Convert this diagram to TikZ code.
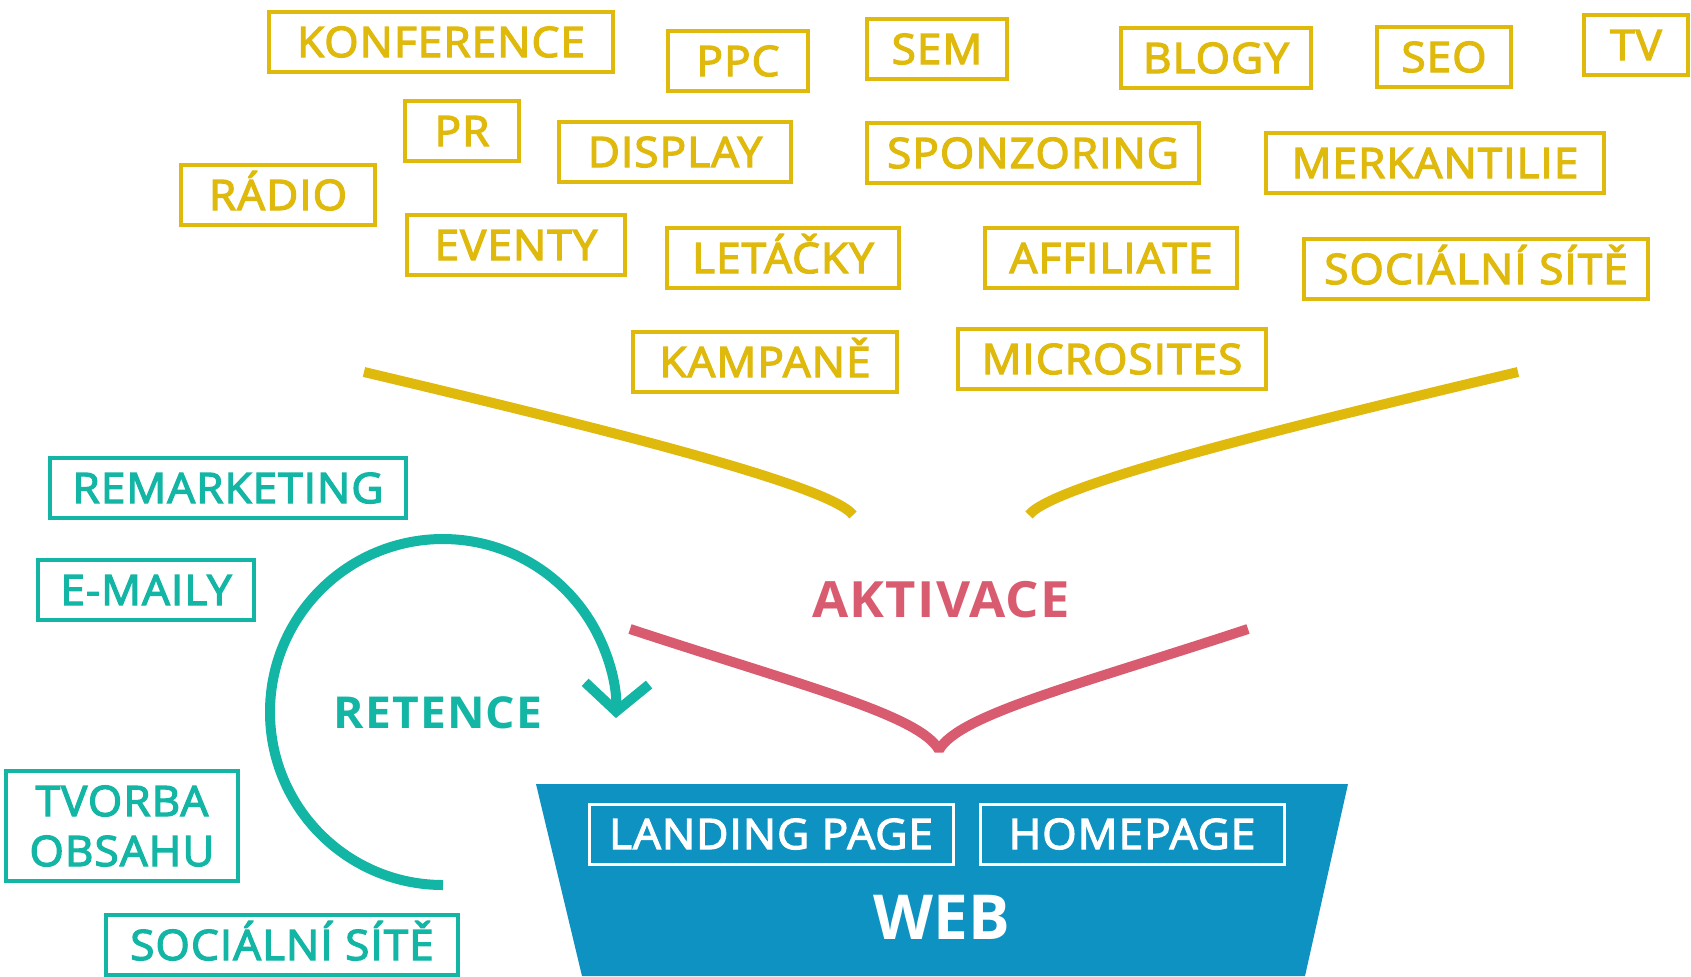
\documentclass[tikz,border=0pt]{standalone}
\usepackage{fontspec}
\setmainfont{Open Sans}
\newfontfamily\sbfont{Open Sans}[FakeBold=3, FakeStretch=1.05, LetterSpace=2.5]
\newfontfamily\tbfont{Open Sans Bold}[FakeStretch=1.05, LetterSpace=2.5]
\usetikzlibrary{arrows.meta}
\definecolor{zluta}{HTML}{DFB90C}
\definecolor{tyrkys}{HTML}{13B5A4}
\definecolor{cervena}{HTML}{D95B6F}
\definecolor{modra}{HTML}{0E92C1}
\tikzset{
  kanal/.style={draw=#1, text=#1, line width=1.75pt, minimum height=30pt,
    inner sep=0pt, font=\sbfont\fontsize{21}{25}\selectfont},
  caps/.style={text height=15pt, text depth=0pt},
  tah/.style={draw=#1, line width=5pt},
}
\begin{document}
\begin{tikzpicture}[x=0.5pt,y=-0.5pt]
  \useasboundingbox (0,0) rectangle (1691,976);
  % kanaly pro aktivaci
  \node[kanal=zluta, caps, minimum width=172pt] (konference) at (441,42) {KONFERENCE};
  \node[kanal=zluta, caps, minimum width=70pt] (ppc) at (738,61) {PPC};
  \node[kanal=zluta, caps, minimum width=70pt] (sem) at (937,49) {SEM};
  \node[kanal=zluta, caps, minimum width=95pt] (blogy) at (1216,58) {BLOGY};
  \node[kanal=zluta, caps, minimum width=67pt] (seo) at (1444,57) {SEO};
  \node[kanal=zluta, caps, minimum width=52pt] (tv) at (1636,45) {TV};
  \node[kanal=zluta, caps, minimum width=57pt] (pr) at (462,131) {PR};
  \node[kanal=zluta, caps, minimum width=116pt] (display) at (675,152) {DISPLAY};
  \node[kanal=zluta, caps, minimum width=166pt] (sponzoring) at (1033,153) {SPONZORING};
  \node[kanal=zluta, caps, minimum width=169pt] (merkantilie) at (1435,163) {MERKANTILIE};
  \node[kanal=zluta, caps, minimum width=97pt] (radio) at (278,195) {RÁDIO};
  \node[kanal=zluta, caps, minimum width=109pt] (eventy) at (516,245) {EVENTY};
  \node[kanal=zluta, caps, minimum width=116pt] (letacky) at (783,258) {LETÁČKY};
  \node[kanal=zluta, caps, minimum width=126pt] (affiliate) at (1111,258) {AFFILIATE};
  \node[kanal=zluta, caps, minimum width=172pt] (site) at (1476,269) {SOCIÁLNÍ SÍTĚ};
  \node[kanal=zluta, caps, minimum width=132pt] (kampane) at (765,362) {KAMPANĚ};
  \node[kanal=zluta, caps, minimum width=154pt] (microsites) at (1112,359) {MICROSITES};
  % kanaly pro retenci
  \node[kanal=tyrkys, caps, minimum width=178pt] (remarketing) at (228,488) {REMARKETING};
  \node[kanal=tyrkys, caps, minimum width=108pt] (emaily) at (146,590) {E-MAILY};
  \node[kanal=tyrkys, minimum width=116pt, minimum height=55pt, align=center] (obsah) at (122,826) {TVORBA\\OBSAHU};
  \node[kanal=tyrkys, caps, minimum width=176pt] (site2) at (282,945) {SOCIÁLNÍ SÍTĚ};
  % web
  \fill[modra] (536,784) -- (1348,784) -- (1305,976) -- (582,976) -- cycle;
  \node[kanal=white, caps, line width=1.5pt, minimum width=182pt] (landing) at (771,834) {LANDING PAGE};
  \node[kanal=white, caps, line width=1.5pt, minimum width=152pt] (homepage) at (1132,834) {HOMEPAGE};
  \node[text=white, font=\bfseries\fontsize{31}{36}\selectfont] (web) at (942,917) {WEB};
  \node[text=cervena, font=\tbfont\fontsize{25}{30}\selectfont] (aktivace) at (941,600) {AKTIVACE};
  \node[text=tyrkys, font=\tbfont\fontsize{22}{26}\selectfont] (retence) at (438,713) {RETENCE};
  % trychtyre
  \coordinate (zl1) at (364,372);
  \coordinate (zl2) at (853,515);
  \coordinate (zp1) at (1029,515);
  \coordinate (zp2) at (1518,372);
  \coordinate (cl) at (630,629);
  \coordinate (cv) at (939,750);
  \coordinate (cp) at (1248,629);
  \coordinate (ret) at (443,885);
  \draw[tah=zluta] (zl1) .. controls (600,428) and (830,485) .. (zl2);
  \draw[tah=zluta] (zp1) .. controls (1052,485) and (1282,428) .. (zp2);
  \draw[tah=cervena, line join=bevel] (cl) .. controls (800,685) and (920,715) .. (cv)
    .. controls (958,715) and (1078,685) .. (cp);
  \draw[tah=tyrkys, -{Straight Barb[length=14pt, width=32pt]}] (ret) arc[start angle=90, end angle=362, radius=173];
\end{tikzpicture}
\end{document}
